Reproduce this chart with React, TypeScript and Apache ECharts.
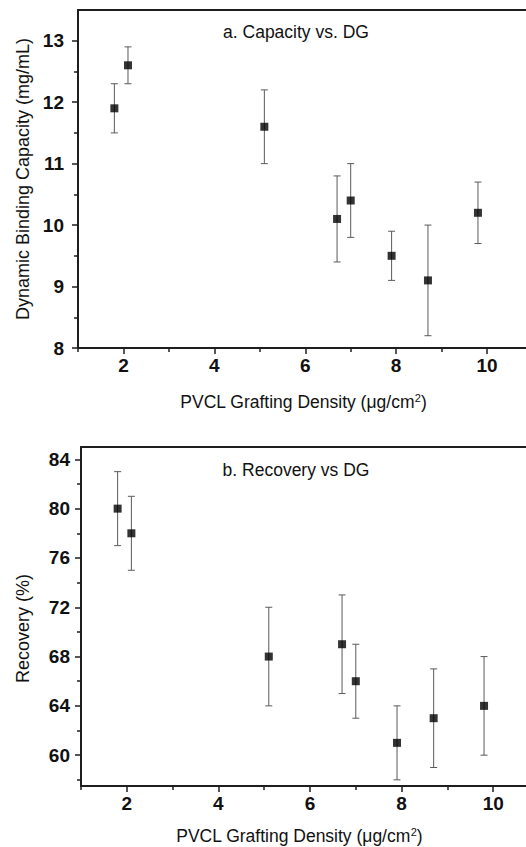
import { useEffect, useRef } from "react";
import * as echarts from "echarts";

// PVCL grafting density (ug/cm2), shared by both panels
const dg = [1.8, 2.1, 5.1, 6.7, 7.0, 7.9, 8.7, 9.8];

// a. dynamic binding capacity (mg/mL)
const capacity = [11.9, 12.6, 11.6, 10.1, 10.4, 9.5, 9.1, 10.2];
const capacityLow = [11.5, 12.3, 11.0, 9.4, 9.8, 9.1, 8.2, 9.7];
const capacityHigh = [12.3, 12.9, 12.2, 10.8, 11.0, 9.9, 10.0, 10.7];

// b. recovery (%)
const recovery = [80, 78, 68, 69, 66, 61, 63, 64];
const recoveryLow = [77, 75, 64, 65, 63, 58, 59, 60];
const recoveryHigh = [83, 81, 72, 73, 69, 64, 67, 68];

const xMajor = [2, 4, 6, 8, 10];
const xMinor = [1, 3, 5, 7, 9, 11];
const capMajor = [8, 9, 10, 11, 12, 13];
const capMinor = [8.5, 9.5, 10.5, 11.5, 12.5];
const recMajor = [60, 64, 68, 72, 76, 80, 84];
const recMinor = [58, 62, 66, 70, 74, 78, 82];

const FONT = "'Liberation Sans', Arial, sans-serif";
const AXIS = "#1e1e1e";
const TEXT = "#111";
// the frame runs past the right edge of the page, so the x axis goes a bit beyond 11
const X_MAX = 11.6;

const xName = "PVCL Grafting Density (μg/cm{sup|2})";

function errorBars(xi: number, yi: number, low: number[], high: number[]) {
  return {
    type: "custom",
    xAxisIndex: xi,
    yAxisIndex: yi,
    z: 1,
    data: dg.map((x, i) => [x, low[i], high[i]]),
    renderItem: (_p: any, api: any) => {
      const top = api.coord([api.value(0), api.value(2)]);
      const bot = api.coord([api.value(0), api.value(1)]);
      const w = 3.5;
      const style = { stroke: "#5a5a5a", lineWidth: 1 };
      return {
        type: "group",
        children: [
          { type: "line", shape: { x1: top[0], y1: top[1], x2: bot[0], y2: bot[1] }, style },
          { type: "line", shape: { x1: top[0] - w, y1: top[1], x2: top[0] + w, y2: top[1] }, style },
          { type: "line", shape: { x1: bot[0] - w, y1: bot[1], x2: bot[0] + w, y2: bot[1] }, style },
        ],
      };
    },
  };
}

// padRight pulls the centred name to the left (by half the padding)
function majorX(grid: number, nameGap: number, padRight: number) {
  return {
    type: "value",
    gridIndex: grid,
    min: 1,
    max: X_MAX,
    position: "bottom",
    name: xName,
    nameLocation: "middle",
    nameGap,
    nameTextStyle: {
      fontFamily: FONT,
      fontSize: 17.5,
      color: TEXT,
      padding: [0, padRight, 0, 0],
      rich: { sup: { fontFamily: FONT, fontSize: 11, color: TEXT, padding: [0, 0, 8, 0] } },
    },
    axisLine: { show: true, lineStyle: { color: AXIS, width: 2 } },
    axisTick: { show: true, inside: false, length: 6, customValues: xMajor, lineStyle: { color: AXIS, width: 1.5 } },
    axisLabel: { customValues: xMajor, margin: 8, fontFamily: FONT, fontSize: 19, fontWeight: "bold", color: TEXT },
    splitLine: { show: false },
  };
}

function minorX(grid: number) {
  return {
    type: "value",
    gridIndex: grid,
    min: 1,
    max: X_MAX,
    position: "bottom",
    axisLine: { show: false },
    axisTick: { show: true, inside: false, length: 4, customValues: xMinor, lineStyle: { color: AXIS, width: 1.5 } },
    axisLabel: { show: false },
    splitLine: { show: false },
  };
}

// top edge of the frame
function frameX(grid: number) {
  return {
    type: "value",
    gridIndex: grid,
    min: 1,
    max: X_MAX,
    position: "top",
    axisLine: { show: true, lineStyle: { color: AXIS, width: 2 } },
    axisTick: { show: false },
    axisLabel: { show: false },
    splitLine: { show: false },
  };
}

function majorY(grid: number, min: number, max: number, ticks: number[], name: string, nameGap: number, margin: number, shift: number) {
  return {
    type: "value",
    gridIndex: grid,
    min,
    max,
    position: "left",
    name,
    nameLocation: "middle",
    nameGap,
    nameTextStyle: { fontFamily: FONT, fontSize: 18, color: TEXT, padding: [0, shift, 0, 0] },
    axisLine: { show: true, lineStyle: { color: AXIS, width: 2 } },
    axisTick: { show: true, inside: false, length: 6, customValues: ticks, lineStyle: { color: AXIS, width: 1.5 } },
    axisLabel: { customValues: ticks, margin, fontFamily: FONT, fontSize: 19, fontWeight: "bold", color: TEXT },
    splitLine: { show: false },
  };
}

function minorY(grid: number, min: number, max: number, ticks: number[]) {
  return {
    type: "value",
    gridIndex: grid,
    min,
    max,
    position: "left",
    offset: 0,
    axisLine: { show: false },
    axisTick: { show: true, inside: false, length: 4, customValues: ticks, lineStyle: { color: AXIS, width: 1.5 } },
    axisLabel: { show: false },
    splitLine: { show: false },
  };
}

function scatter(xi: number, yi: number, ys: number[]) {
  return {
    type: "scatter",
    xAxisIndex: xi,
    yAxisIndex: yi,
    z: 3,
    symbol: "rect",
    symbolSize: 8,
    itemStyle: { color: "#000" },
    data: dg.map((x, i) => [x, ys[i]]),
  };
}

export default function App() {
  const ref = useRef<HTMLDivElement | null>(null);

  useEffect(() => {
    const el = ref.current!;
    const chart = echarts.init(el, null, { renderer: "svg" });
    chart.setOption({
      animation: false,
      backgroundColor: "#fff",
      grid: [
        { left: 78, top: 10, width: 45.45 * (X_MAX - 1), height: 338 },
        { left: 81, top: 447, width: 45.8 * (X_MAX - 1), height: 339 },
      ],
      xAxis: [majorX(0, 44, 31), minorX(0), frameX(0), majorX(1, 40, 49), minorX(1), frameX(1)],
      yAxis: [
        majorY(0, 8, 13.5, capMajor, "Dynamic Binding Capacity (mg/mL)", 45, 14, 0),
        minorY(0, 8, 13.5, capMinor),
        majorY(1, 57.5, 85, recMajor, "Recovery (%)", 49, 11, 24),
        minorY(1, 57.5, 85, recMinor),
      ],
      graphic: [
        {
          type: "text",
          x: 296,
          y: 32,
          style: { text: "a. Capacity vs. DG", fontFamily: FONT, fontSize: 17.5, fill: TEXT, textAlign: "center", textVerticalAlign: "middle" },
        },
        {
          type: "text",
          x: 296,
          y: 470,
          style: { text: "b. Recovery vs DG", fontFamily: FONT, fontSize: 17.5, fill: TEXT, textAlign: "center", textVerticalAlign: "middle" },
        },
      ],
      series: [
        errorBars(0, 0, capacityLow, capacityHigh),
        scatter(0, 0, capacity),
        errorBars(3, 2, recoveryLow, recoveryHigh),
        scatter(3, 2, recovery),
      ],
    });
    return () => chart.dispose();
  }, []);

  return <div ref={ref} style={{ position: "fixed", left: 0, top: 0, width: 580, height: 847 }} />;
}
